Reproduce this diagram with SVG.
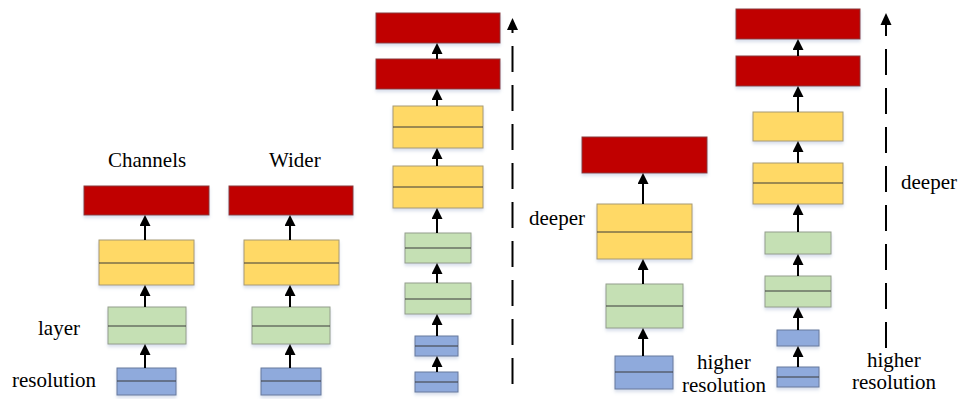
<svg xmlns="http://www.w3.org/2000/svg" width="959" height="399" viewBox="0 0 959 399">
  <defs>
    <filter id="shadow" x="-10%" y="-20%" width="120%" height="160%">
      <feDropShadow dx="0" dy="2.5" stdDeviation="1.5" flood-color="#8fa3c8" flood-opacity="0.35"/>
    </filter>
    <marker id="head" viewBox="0 0 11 11" markerWidth="11" markerHeight="11" refX="3" refY="5.5" orient="auto" markerUnits="userSpaceOnUse">
      <path d="M0,0 L11,5.5 L0,11 z" fill="#000"/>
    </marker>
  </defs>
  <style>
    .box { filter: url(#shadow); stroke-width: 1; }
    .red { fill: #c00000; stroke: #8a3a3a; }
    .yel { fill: #ffd966; stroke: #a89a72; }
    .grn { fill: #c5e0b4; stroke: #949e8c; }
    .blu { fill: #8faadc; stroke: #66789c; }
    .mid { stroke: #3a3a3a; stroke-width: 1; }
    .arr { stroke: #000; stroke-width: 2; fill: none; marker-end: url(#head); }
    .dash { stroke: #000; stroke-width: 2; fill: none; stroke-dasharray: 26 13; }
  </style>
  <rect width="959" height="399" fill="#fff"/>

  <!-- column 1: baseline network -->
  <g id="c1-red"><rect class="box red" x="84" y="186" width="125" height="29"/></g>
  <g id="c1-yellow"><rect class="box yel" x="99" y="240" width="95" height="45"/><line class="mid" x1="99" y1="263" x2="194" y2="263"/></g>
  <g id="c1-green"><rect class="box grn" x="108" y="307" width="78" height="37"/><line class="mid" x1="108" y1="326" x2="186" y2="326"/></g>
  <g id="c1-blue"><rect class="box blu" x="117" y="368" width="59" height="27"/><line class="mid" x1="117" y1="381" x2="176" y2="381"/></g>

  <!-- column 2: wider -->
  <g id="c2-red"><rect class="box red" x="229" y="186" width="124" height="29"/></g>
  <g id="c2-yellow"><rect class="box yel" x="244" y="240" width="95" height="45"/><line class="mid" x1="244" y1="263" x2="339" y2="263"/></g>
  <g id="c2-green"><rect class="box grn" x="252" y="307" width="78" height="37"/><line class="mid" x1="252" y1="326" x2="330" y2="326"/></g>
  <g id="c2-blue"><rect class="box blu" x="261" y="368" width="60" height="27"/><line class="mid" x1="261" y1="381" x2="321" y2="381"/></g>

  <!-- column 3: deeper stack -->
  <g id="c3-red1"><rect class="box red" x="376" y="13" width="124" height="30"/></g>
  <g id="c3-red2"><rect class="box red" x="376" y="59" width="124" height="30"/></g>
  <g id="c3-yellow1"><rect class="box yel" x="393" y="106" width="90" height="42"/><line class="mid" x1="393" y1="127" x2="483" y2="127"/></g>
  <g id="c3-yellow2"><rect class="box yel" x="393" y="166" width="90" height="42"/><line class="mid" x1="393" y1="187" x2="483" y2="187"/></g>
  <g id="c3-green1"><rect class="box grn" x="405" y="233" width="66" height="30"/><line class="mid" x1="405" y1="248" x2="471" y2="248"/></g>
  <g id="c3-green2"><rect class="box grn" x="405" y="283" width="66" height="31"/><line class="mid" x1="405" y1="299" x2="471" y2="299"/></g>
  <g id="c3-blue1"><rect class="box blu" x="415" y="336" width="43" height="20"/><line class="mid" x1="415" y1="346" x2="458" y2="346"/></g>
  <g id="c3-blue2"><rect class="box blu" x="415" y="372" width="43" height="20"/><line class="mid" x1="415" y1="382" x2="458" y2="382"/></g>

  <!-- column 4: higher resolution -->
  <g id="c4-red"><rect class="box red" x="582" y="137" width="125" height="36"/></g>
  <g id="c4-yellow"><rect class="box yel" x="597" y="204" width="95" height="55"/><line class="mid" x1="597" y1="232" x2="692" y2="232"/></g>
  <g id="c4-green"><rect class="box grn" x="606" y="284" width="77" height="44"/><line class="mid" x1="606" y1="306" x2="683" y2="306"/></g>
  <g id="c4-blue"><rect class="box blu" x="615" y="356" width="58" height="33"/><line class="mid" x1="615" y1="372" x2="673" y2="372"/></g>

  <!-- column 5: deeper + higher resolution -->
  <g id="c5-red1"><rect class="box red" x="736" y="9" width="124" height="30"/></g>
  <g id="c5-red2"><rect class="box red" x="736" y="56" width="124" height="30"/></g>
  <g id="c5-yellow1"><rect class="box yel" x="753" y="112" width="90" height="29"/></g>
  <g id="c5-yellow2"><rect class="box yel" x="753" y="163" width="90" height="41"/><line class="mid" x1="753" y1="183" x2="843" y2="183"/></g>
  <g id="c5-green1"><rect class="box grn" x="765" y="232" width="66" height="22"/></g>
  <g id="c5-green2"><rect class="box grn" x="765" y="276" width="66" height="31"/><line class="mid" x1="765" y1="291" x2="831" y2="291"/></g>
  <g id="c5-blue1"><rect class="box blu" x="777" y="330" width="42" height="16"/></g>
  <g id="c5-blue2"><rect class="box blu" x="777" y="367" width="42" height="20"/><line class="mid" x1="777" y1="377" x2="819" y2="377"/></g>

  <!-- connectors -->
  <g id="connectors">
    <line class="arr" x1="145" y1="240" x2="145" y2="223"/>
    <line class="arr" x1="145" y1="307" x2="145" y2="293"/>
    <line class="arr" x1="145" y1="368" x2="145" y2="352"/>

    <line class="arr" x1="290" y1="240" x2="290" y2="223"/>
    <line class="arr" x1="290" y1="307" x2="290" y2="293"/>
    <line class="arr" x1="290" y1="368" x2="290" y2="352"/>

    <line class="arr" x1="437" y1="59" x2="437" y2="51"/>
    <line class="arr" x1="437" y1="106" x2="437" y2="97"/>
    <line class="arr" x1="437" y1="166" x2="437" y2="156"/>
    <line class="arr" x1="437" y1="233" x2="437" y2="216"/>
    <line class="arr" x1="437" y1="283" x2="437" y2="271"/>
    <line class="arr" x1="437" y1="336" x2="437" y2="322"/>
    <line class="arr" x1="437" y1="372" x2="437" y2="364"/>

    <line class="arr" x1="643" y1="204" x2="643" y2="181"/>
    <line class="arr" x1="643" y1="284" x2="643" y2="267"/>
    <line class="arr" x1="643" y1="356" x2="643" y2="336"/>

    <line class="arr" x1="798" y1="56" x2="798" y2="47"/>
    <line class="arr" x1="798" y1="112" x2="798" y2="94"/>
    <line class="arr" x1="798" y1="163" x2="798" y2="149"/>
    <line class="arr" x1="798" y1="232" x2="798" y2="212"/>
    <line class="arr" x1="798" y1="276" x2="798" y2="262"/>
    <line class="arr" x1="798" y1="330" x2="798" y2="315"/>
    <line class="arr" x1="798" y1="367" x2="798" y2="354"/>

    <!-- dashed depth arrows -->
    <line class="dash" x1="512.5" y1="384" x2="512.5" y2="28"/>
    <path d="M507,30 L512.5,18 L518,30 z" fill="#000"/>
    <line class="dash" x1="886" y1="348" x2="886" y2="24"/>
    <path d="M880.5,25 L886,13 L891.5,25 z" fill="#000"/>
  </g>

  <!-- labels -->
  <g id="labels" font-family="'Liberation Serif', 'DejaVu Serif', serif" font-size="21" fill="#000">
    <text x="108" y="167">Channels</text>
    <text x="269" y="167">Wider</text>
    <text x="38" y="335">layer</text>
    <text x="12" y="387">resolution</text>
    <text x="529" y="225">deeper</text>
    <text x="697" y="369">higher</text>
    <text x="682" y="392">resolution</text>
    <text x="901" y="189">deeper</text>
    <text x="867" y="367">higher</text>
    <text x="852" y="389">resolution</text>
  </g>
</svg>
